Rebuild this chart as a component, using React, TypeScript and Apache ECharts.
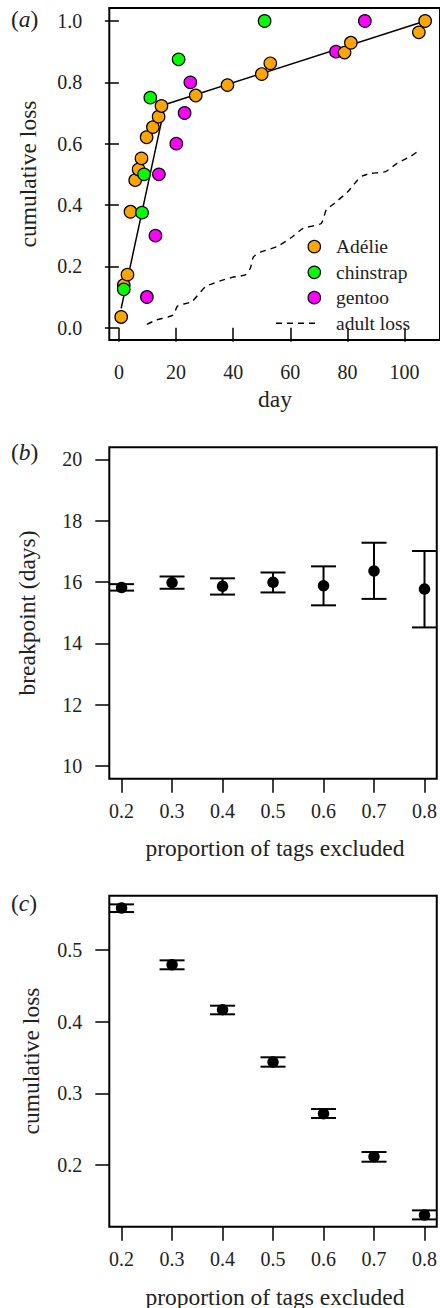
import React, { useEffect, useRef } from "react";
import * as echarts from "echarts";

// ---------- Panel (a) data ----------
const adelieDay = [0.8, 1.7, 3.0, 4.05, 5.7, 6.9, 7.9, 9.7, 11.9, 13.9, 14.9, 26.9, 38.0, 50.0, 53.0, 79.0, 81.2, 105.0, 107.2];
const adelieLoss = [0.035, 0.139, 0.173, 0.378, 0.481, 0.516, 0.552, 0.621, 0.654, 0.688, 0.723, 0.757, 0.791, 0.827, 0.862, 0.897, 0.929, 0.963, 1.0];
const chinDay = [1.7, 8.1, 8.8, 11.0, 20.9, 51.0];
const chinLoss = [0.125, 0.375, 0.5, 0.75, 0.875, 1.0];
const gentooDay = [9.8, 12.8, 14.0, 20.1, 23.0, 25.0, 76.0, 86.1];
const gentooLoss = [0.1, 0.3, 0.5, 0.6, 0.7, 0.8, 0.9, 1.0];
const fitDay = [0.8, 16.2, 107.2];
const fitLoss = [0.063, 0.728, 1.0];
const adultDay = [9.8, 13.1, 18.9, 20.6, 25.5, 30.4, 36.2, 39.6, 44.2, 46.0, 47.1, 50.0, 55.3, 60.5, 64.5, 70.8, 72.6, 75.5, 80.1, 83.5, 85.3, 88.1, 93.3, 97.4, 102.0, 104.9];
const adultLoss = [0.011, 0.025, 0.041, 0.071, 0.085, 0.134, 0.155, 0.164, 0.172, 0.194, 0.231, 0.248, 0.264, 0.295, 0.324, 0.340, 0.384, 0.406, 0.443, 0.481, 0.495, 0.503, 0.509, 0.536, 0.558, 0.577];
const dayTicks = [0, 20, 40, 60, 80, 100];
const lossTicksA = [0, 0.2, 0.4, 0.6, 0.8, 1.0];

// ---------- Panel (b) data ----------
const propExcluded = [0.2, 0.3, 0.4, 0.5, 0.6, 0.7, 0.8];
const bpMean = [15.82, 15.98, 15.86, 15.99, 15.88, 16.36, 15.77];
const bpLo = [15.72, 15.78, 15.59, 15.66, 15.24, 15.45, 14.52];
const bpHi = [15.93, 16.18, 16.12, 16.31, 16.51, 17.28, 17.01];
const bpTicks = [10, 12, 14, 16, 18, 20];

// ---------- Panel (c) data ----------
const clMean = [0.5586, 0.4795, 0.4168, 0.3437, 0.2716, 0.2116, 0.1302];
const clLo = [0.553, 0.4731, 0.4103, 0.3372, 0.2656, 0.2046, 0.1241];
const clHi = [0.5637, 0.4856, 0.4223, 0.3503, 0.2781, 0.2181, 0.1367];
const clTicks = [0.2, 0.3, 0.4, 0.5];

const FONT = "'Liberation Serif', 'Times New Roman', serif";
const TXT = "#222";
const FS_TICK = 20;
const FS_TITLE = 23.5;
const FS_LEG = 19.5;

const colors = { adelie: "#FFA500", chin: "#00FF00", gentoo: "#FF00FF" };

function App() {
  const ref = useRef<HTMLDivElement>(null);

  useEffect(() => {
    if (!ref.current) return;
    const chart = echarts.init(ref.current, undefined, { renderer: "svg" });

    // combine species, plotted in order of day (as in the original)
    const pts: any[] = [];
    adelieDay.forEach((d, i) => pts.push({ value: [d, adelieLoss[i]], c: colors.adelie, o: 0 }));
    chinDay.forEach((d, i) => pts.push({ value: [d, chinLoss[i]], c: colors.chin, o: 1 }));
    gentooDay.forEach((d, i) => pts.push({ value: [d, gentooLoss[i]], c: colors.gentoo, o: 2 }));
    pts.sort((a, b) => a.value[0] - b.value[0] || a.o - b.o);
    const scatterA = pts.map((p) => ({ value: p.value, itemStyle: { color: p.c } }));

    const axisCommon = (fmt: (v: number) => string, ticks: number[], margin: number) => ({
      axisLine: { show: false },
      splitLine: { show: false },
      axisTick: { show: true, length: 14, lineStyle: { color: "#000", width: 1.5 }, customValues: ticks },
      axisLabel: {
        customValues: ticks,
        formatter: fmt,
        color: TXT,
        fontFamily: FONT,
        fontSize: FS_TICK,
        margin,
      },
    });

    const errRender = (params: any, api: any) => {
      const x = api.value(0);
      const lo = api.coord([x, api.value(1)]);
      const hi = api.coord([x, api.value(2)]);
      const hw = 12.5;
      const st = { stroke: "#000", lineWidth: 2 };
      return {
        type: "group",
        children: [
          { type: "line", shape: { x1: lo[0], y1: lo[1], x2: hi[0], y2: hi[1] }, style: st },
          { type: "line", shape: { x1: lo[0] - hw, y1: lo[1], x2: lo[0] + hw, y2: lo[1] }, style: st },
          { type: "line", shape: { x1: hi[0] - hw, y1: hi[1], x2: hi[0] + hw, y2: hi[1] }, style: st },
        ],
      };
    };

    const gridBase = { show: true, borderColor: "#000", borderWidth: 2, backgroundColor: "transparent", containLabel: false };

    const label = (t: string, x: number, y: number) => ({
      type: "text",
      x,
      y,
      style: {
        text: `{n|(}{i|${t}}{n|)}`,
        rich: {
          n: { fontFamily: FONT, fontSize: FS_TITLE, fill: TXT },
          i: { fontFamily: FONT, fontSize: FS_TITLE, fontStyle: "italic", fill: TXT },
        },
        verticalAlign: "middle",
        align: "left",
      },
    });
    const txt = (t: string, x: number, y: number, rot = 0) => ({
      type: "text",
      x,
      y,
      rotation: rot,
      style: { text: t, fontFamily: FONT, fontSize: FS_TITLE, fill: TXT, align: "center", verticalAlign: "middle" },
    });

    const legendY = [246.7, 272.3, 297.7];
    const legendNames = ["Adélie", "chinstrap", "gentoo"];
    const legendCols = [colors.adelie, colors.chin, colors.gentoo];
    const legendEls: any[] = [];
    legendNames.forEach((n, i) => {
      legendEls.push({
        type: "circle",
        shape: { cx: 314.3, cy: legendY[i], r: 6.2 },
        style: { fill: legendCols[i], stroke: "#000", lineWidth: 1.2 },
        z: 10,
      });
      legendEls.push({
        type: "text",
        x: 336,
        y: legendY[i],
        style: { text: n, fontFamily: FONT, fontSize: FS_LEG, fill: TXT, align: "left", verticalAlign: "middle" },
        z: 10,
      });
    });
    legendEls.push({
      type: "line",
      shape: { x1: 276, y1: 323.3, x2: 316, y2: 323.3 },
      style: { stroke: "#000", lineWidth: 1.5, lineDash: [6, 5] },
      z: 10,
    });
    legendEls.push({
      type: "text",
      x: 336,
      y: 323.3,
      style: { text: "adult loss", fontFamily: FONT, fontSize: FS_LEG, fill: TXT, align: "left", verticalAlign: "middle" },
      z: 10,
    });

    const fmtInt = (v: number) => String(Math.round(v));
    const fmt1 = (v: number) => v.toFixed(1);

    chart.setOption({
      animation: false,
      backgroundColor: "#fff",
      grid: [
        { ...gridBase, left: 109.3, top: 8, width: 334, height: 332 },
        { ...gridBase, left: 109.3, top: 447.3, width: 331.4, height: 331.4 },
        { ...gridBase, left: 109.3, top: 895.7, width: 331.4, height: 331 },
      ],
      xAxis: [
        { type: "value", gridIndex: 0, min: -3.36, max: 112.4, ...axisCommon(fmtInt, dayTicks, 22) },
        { type: "value", gridIndex: 1, min: 0.1757, max: 0.8243, ...axisCommon(fmt1, propExcluded, 22) },
        { type: "value", gridIndex: 2, min: 0.1757, max: 0.8243, ...axisCommon(fmt1, propExcluded, 22) },
      ],
      yAxis: [
        { type: "value", gridIndex: 0, min: -0.0401, max: 1.0424, ...axisCommon(fmt1, lossTicksA, 27) },
        { type: "value", gridIndex: 1, min: 9.59, max: 20.39, ...axisCommon(fmtInt, bpTicks, 27) },
        { type: "value", gridIndex: 2, min: 0.1139, max: 0.5758, ...axisCommon(fmt1, clTicks, 27) },
      ],
      series: [
        {
          type: "line",
          xAxisIndex: 0,
          yAxisIndex: 0,
          data: fitDay.map((d, i) => [d, fitLoss[i]]),
          symbol: "none",
          lineStyle: { color: "#000", width: 1.5 },
          z: 1,
        },
        {
          type: "line",
          xAxisIndex: 0,
          yAxisIndex: 0,
          data: adultDay.map((d, i) => [d, adultLoss[i]]),
          symbol: "none",
          smooth: 0.2,
          lineStyle: { color: "#000", width: 1.4, type: [6, 5] },
          z: 1,
        },
        {
          type: "scatter",
          xAxisIndex: 0,
          yAxisIndex: 0,
          data: scatterA,
          symbolSize: 12.5,
          itemStyle: { borderColor: "#000", borderWidth: 1.2, opacity: 1 },
          z: 3,
        },
        {
          type: "custom",
          xAxisIndex: 1,
          yAxisIndex: 1,
          data: propExcluded.map((p, i) => [p, bpLo[i], bpHi[i]]),
          renderItem: errRender,
          encode: { x: 0, y: [1, 2] },
          z: 2,
        },
        {
          type: "scatter",
          xAxisIndex: 1,
          yAxisIndex: 1,
          data: propExcluded.map((p, i) => [p, bpMean[i]]),
          symbolSize: 11.5,
          itemStyle: { color: "#000", opacity: 1 },
          z: 3,
        },
        {
          type: "custom",
          xAxisIndex: 2,
          yAxisIndex: 2,
          data: propExcluded.map((p, i) => [p, clLo[i], clHi[i]]),
          renderItem: errRender,
          encode: { x: 0, y: [1, 2] },
          z: 2,
        },
        {
          type: "scatter",
          xAxisIndex: 2,
          yAxisIndex: 2,
          data: propExcluded.map((p, i) => [p, clMean[i]]),
          symbolSize: 11.5,
          itemStyle: { color: "#000", opacity: 1 },
          z: 3,
        },
      ],
      graphic: [
        label("a", 11, 19),
        label("b", 11, 451.5),
        label("c", 11, 903),
        txt("cumulative loss", 28, 174, Math.PI / 2),
        txt("breakpoint (days)", 27, 613, Math.PI / 2),
        txt("cumulative loss", 31, 1061, Math.PI / 2),
        txt("day", 275, 399),
        txt("proportion of tags excluded", 275, 847.5),
        txt("proportion of tags excluded", 275, 1296.5),
        ...legendEls,
      ],
    });

    return () => chart.dispose();
  }, []);

  return (
    <div
      ref={ref}
      style={{ position: "absolute", left: 0, top: 0, width: 440, height: 1308 }}
    />
  );
}

export default App;
